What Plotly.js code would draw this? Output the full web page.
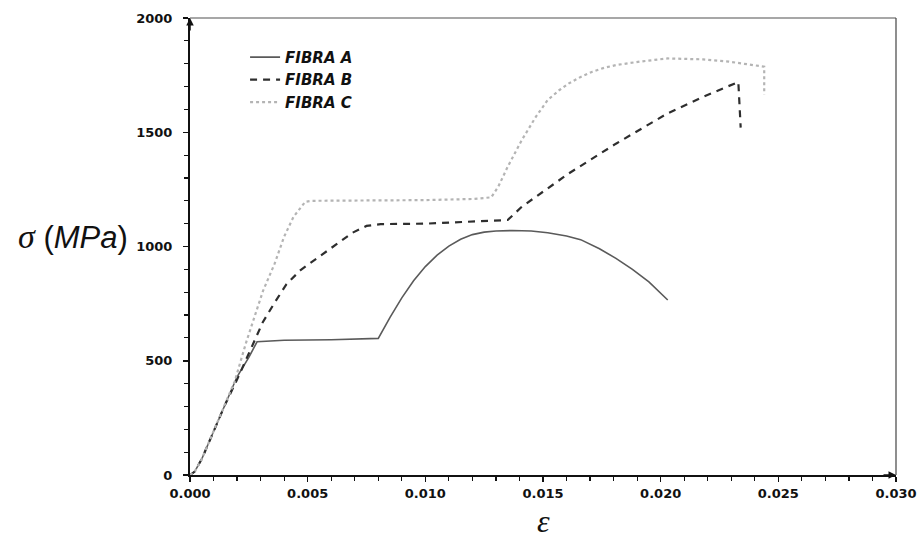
<!DOCTYPE html>
<html>
<head>
<meta charset="utf-8">
<script src="https://cdn.plot.ly/plotly-3.0.1.min.js"></script>
<style>html,body{margin:0;padding:0;background:#fff;}#chart{width:922px;height:540px;}</style>
</head>
<body>
<div id="chart"></div>
<script>
const seriesNames = ["FIBRA A", "FIBRA B", "FIBRA C"];

const strainA = [0, 0.0002, 0.0005, 0.0010, 0.0015, 0.0020, 0.0025, 0.00285, 0.0040, 0.0060, 0.0080, 0.0085, 0.0090, 0.0095, 0.0100, 0.0105, 0.0110, 0.0115, 0.0120, 0.0125, 0.0130, 0.0137, 0.0145, 0.0152, 0.0160, 0.0166, 0.0174, 0.0181, 0.0188, 0.0195, 0.0203];
const stressA = [0, 15, 70, 190, 310, 430, 515, 583, 590, 592, 598, 690, 775, 850, 912, 962, 1002, 1032, 1052, 1063, 1068, 1070, 1068, 1060, 1046, 1030, 990, 948, 900, 845, 766];

const strainB = [0, 0.0002, 0.0005, 0.0010, 0.0015, 0.0021, 0.0027, 0.0031, 0.0036, 0.0041, 0.0047, 0.0053, 0.0060, 0.0063, 0.0069, 0.0075, 0.0081, 0.0100, 0.0122, 0.0135, 0.0141, 0.0161, 0.0181, 0.0203, 0.0218, 0.0233, 0.0234];
const stressB = [0, 15, 70, 190, 310, 440, 576, 670, 755, 835, 897, 941, 990, 1015, 1060, 1090, 1098, 1100, 1108, 1116, 1174, 1320, 1450, 1583, 1655, 1720, 1520];

const strainC = [0, 0.0002, 0.0005, 0.0010, 0.0015, 0.0019, 0.0024, 0.0027, 0.0031, 0.0036, 0.0040, 0.0044, 0.0049, 0.0052, 0.0070, 0.0100, 0.0120, 0.0128, 0.0131, 0.0135, 0.0141, 0.0147, 0.0152, 0.0157, 0.0161, 0.0166, 0.0171, 0.0176, 0.0181, 0.0191, 0.0203, 0.0218, 0.0229, 0.0239, 0.0244, 0.0244];
const stressC = [0, 15, 70, 190, 310, 410, 585, 678, 805, 926, 1043, 1130, 1196, 1200, 1200, 1203, 1208, 1215, 1262, 1349, 1466, 1568, 1641, 1685, 1714, 1742, 1765, 1782, 1794, 1809, 1823, 1819, 1809, 1794, 1787, 1665];

const xTickVals = [0, 0.005, 0.010, 0.015, 0.020, 0.025, 0.030];
const xTickText = ["0.000", "0.005", "0.010", "0.015", "0.020", "0.025", "0.030"];
const yTickVals = [0, 500, 1000, 1500, 2000];
const yTickText = ["0", "500", "1000", "1500", "2000"];

const traces = [
  {x: strainA, y: stressA, name: seriesNames[0], mode: "lines", line: {color: "#5a5a5a", width: 1.6}},
  {x: strainB, y: stressB, name: seriesNames[1], mode: "lines", line: {color: "#2e2e2e", width: 2.2, dash: "7px,6px"}},
  {x: strainC, y: stressC, name: seriesNames[2], mode: "lines", line: {color: "#b4b4b4", width: 2.2, dash: "dot"}}
];

const tickFont = {family: "DejaVu Sans", size: 13, color: "#111", weight: "bold"};

const layout = {
  width: 922, height: 540,
  margin: {l: 190, r: 26, t: 18, b: 65},
  paper_bgcolor: "#fff", plot_bgcolor: "#fff",
  showlegend: true,
  legend: {
    x: 0.078, y: 0.95, xanchor: "left", yanchor: "top",
    bgcolor: "rgba(0,0,0,0)", tracegroupgap: 0,
    font: {family: "DejaVu Sans", size: 15, color: "#111", weight: "bold", style: "italic"},
    itemwidth: 30
  },
  xaxis: {
    range: [0, 0.030], showgrid: false, zeroline: false,
    showline: true, linecolor: "#111", linewidth: 2,
    tickvals: xTickVals, ticktext: xTickText,
    ticks: "outside", ticklen: 5, tickwidth: 1.5, tickcolor: "#111",
    tickfont: tickFont,
    minor: {dtick: 0.001, ticks: "outside", ticklen: 4, tickwidth: 1.2, tickcolor: "#111", showgrid: false},
    fixedrange: true
  },
  yaxis: {
    range: [0, 2000], showgrid: false, zeroline: false,
    showline: true, linecolor: "#111", linewidth: 2,
    tickvals: yTickVals, ticktext: yTickText,
    ticks: "outside", ticklen: 5, tickwidth: 1.5, tickcolor: "#111",
    tickfont: tickFont, ticklabelstandoff: 8,
    minor: {dtick: 100, ticks: "outside", ticklen: 4, tickwidth: 1.2, tickcolor: "#111", showgrid: false},
    fixedrange: true
  },
  shapes: [
    {type: "line", xref: "paper", yref: "paper", x0: 0, x1: 1, y0: 1, y1: 1, line: {color: "#8a8a8a", width: 1.5}},
    {type: "line", xref: "paper", yref: "paper", x0: 1, x1: 1, y0: 0, y1: 1, line: {color: "#444", width: 1.2}}
  ],
  annotations: [
    {xref: "paper", yref: "paper", x: 1, y: 0, ax: -14, ay: 0, axref: "pixel", ayref: "pixel",
     showarrow: true, arrowhead: 2, arrowsize: 1, arrowwidth: 1.5, arrowcolor: "#111", text: ""},
    {xref: "paper", yref: "paper", x: 0, y: 1, ax: 0, ay: 14, axref: "pixel", ayref: "pixel",
     showarrow: true, arrowhead: 2, arrowsize: 1, arrowwidth: 1.5, arrowcolor: "#111", text: ""},
    {xref: "paper", yref: "y", x: -0.085, y: 1045, xanchor: "right", yanchor: "middle", showarrow: false,
     text: "<span style='font-family:Liberation Serif;font-style:italic;font-size:34px'>σ</span> (<i>MPa</i>)",
     font: {family: "Liberation Sans, Arial", size: 31, color: "#111"}},
    {xref: "x", yref: "paper", x: 0.015, y: -0.1, xanchor: "center", yanchor: "middle", showarrow: false,
     text: "<i>ε</i>", font: {family: "Liberation Serif, Times New Roman", size: 32, color: "#111"}}
  ]
};

Plotly.newPlot("chart", traces, layout, {displayModeBar: false, staticPlot: true});
</script>
</body>
</html>
